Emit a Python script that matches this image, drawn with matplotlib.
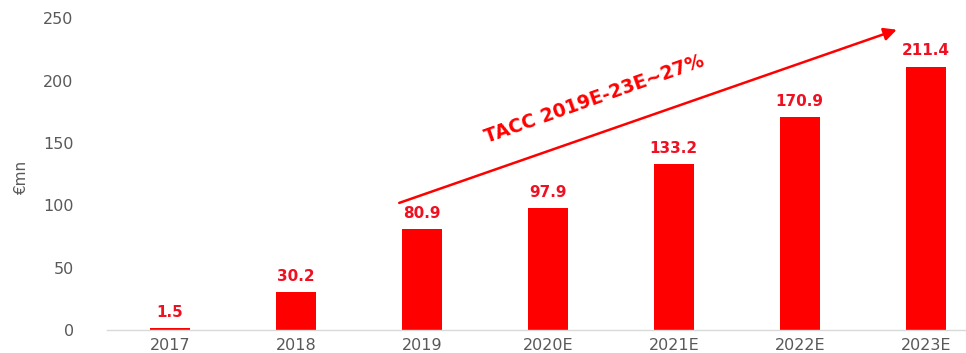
import numpy as np
import matplotlib
matplotlib.use('Agg')
import matplotlib.pyplot as plt

years = ['2017', '2018', '2019', '2020E', '2021E', '2022E', '2023E']
revenue = [1.5, 30.2, 80.9, 97.9, 133.2, 170.9, 211.4]

# growth arrow, data coords (category index, €mn)
arrow_start = (1.82, 102)
arrow_end = (5.77, 241)
arrow_label = 'TACC 2019E-23E~27%'

bar_red = '#FF0000'
label_red = '#EE1122'
grey = '#595959'

fig = plt.figure(figsize=(9.66, 3.53), dpi=100, facecolor='white')
ax = fig.add_axes([107 / 966, 23 / 353, 859 / 966, 311.5 / 353])

x = np.arange(len(years))
bars = ax.bar(x, revenue, width=0.32, color=bar_red, zorder=2)

for b, v in zip(bars, revenue):
    ax.annotate(f'{v:.1f}', (b.get_x() + b.get_width() / 2, v),
                xytext=(0, 6), textcoords='offset points',
                ha='center', va='bottom', color=label_red,
                fontsize=11, fontweight='bold')

ax.annotate('', xy=arrow_end, xytext=arrow_start,
            arrowprops=dict(arrowstyle='-|>', color=bar_red, lw=1.8,
                            mutation_scale=19, shrinkA=0, shrinkB=0))
ax.text(3.37, 185, arrow_label, rotation=19.5, rotation_mode='anchor',
        ha='center', va='center', color=bar_red, fontsize=13.5, fontweight='bold')

ax.set_xlim(-0.5, 6.32)
ax.set_ylim(0, 250)
ax.set_yticks(range(0, 251, 50))
ax.set_xticks(x)
ax.set_xticklabels(years)
ax.tick_params(axis='both', length=0, colors=grey, labelsize=11.5)
ax.tick_params(axis='y', pad=24)
ax.tick_params(axis='x', pad=6)

for side in ['top', 'right', 'left']:
    ax.spines[side].set_visible(False)
ax.spines['bottom'].set_color('#D9D9D9')
ax.spines['bottom'].set_linewidth(1)

fig.text(22 / 966, 1 - 178 / 353, '€mn', rotation=90, ha='center', va='center',
         color=grey, fontsize=11)

fig.savefig('out.png', dpi=100)
